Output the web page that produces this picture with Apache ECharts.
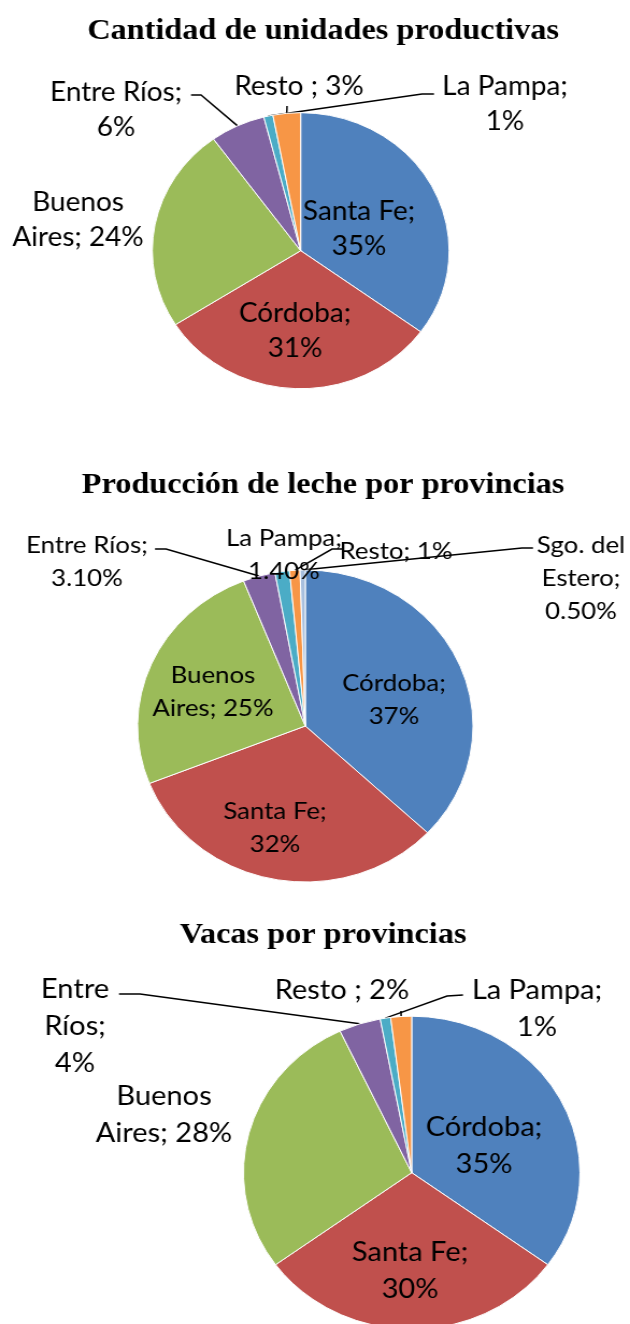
<!DOCTYPE html>
<html>
<head>
<meta charset="utf-8">
<script src="https://cdn.jsdelivr.net/npm/echarts@6/dist/echarts.min.js"></script>
<style>
  html, body { margin: 0; padding: 0; background: #fff; overflow: hidden; }
  /* el original esta estirado en horizontal, las tortas son elipses */
  #chart { width: 586px; height: 1324px; transform: scaleX(1.0751); transform-origin: 0 0; }
</style>
</head>
<body>
<div id="chart"></div>
<script>
// datos
const titulos = ['Cantidad de unidades productivas', 'Producción de leche por provincias', 'Vacas por provincias'];

const unidadesNombres = ['Santa Fe', 'Córdoba', 'Buenos Aires', 'Entre Ríos', 'La Pampa', 'Resto'];
const unidadesValores = [35, 31, 24, 6, 1, 3];
const unidadesEtiquetas = ['Santa Fe;\n35%', 'Córdoba;\n31%', 'Buenos\nAires; 24%', 'Entre Ríos;\n6%', 'La Pampa;\n1%', 'Resto ; 3%'];

const lecheNombres = ['Córdoba', 'Santa Fe', 'Buenos Aires', 'Entre Ríos', 'La Pampa', 'Resto', 'Sgo. del Estero'];
const lecheValores = [37, 32, 25, 3.1, 1.4, 1, 0.5];
const lecheEtiquetas = ['Córdoba;\n37%', 'Santa Fe;\n32%', 'Buenos\nAires; 25%', 'Entre Ríos;\n3.10%', 'La Pampa;\n1.40%', 'Resto; 1%', 'Sgo. del\nEstero;\n0.50%'];

const vacasNombres = ['Córdoba', 'Santa Fe', 'Buenos Aires', 'Entre Ríos', 'La Pampa', 'Resto'];
const vacasValores = [35, 30, 28, 4, 1, 2];
const vacasEtiquetas = ['Córdoba;\n35%', 'Santa Fe;\n30%', 'Buenos\nAires; 28%', 'Entre\nRíos;\n4%', 'La Pampa;\n1%', 'Resto ; 2%'];

// estilos y ubicaciones (en px de pantalla)
const K = 630 / 586;
const colores6 = ['#4F81BD', '#C0504D', '#9BBB59', '#8064A2', '#4BACC6', '#F79646'];
const colores7 = colores6.concat(['#A7BFDE']);

const graficos = [
  {
    nombres: unidadesNombres, valores: unidadesValores, etiquetas: unidadesEtiquetas, colores: colores6,
    centro: [300.7, 250.7], radio: 138, tituloTop: 14, fuente: 26, interlinea: 35,
    lugares: [[359, 229.5], [295, 331], [78, 220], [116, 110.5], [505, 104.5], [299, 87]],
    lineas: { 3: [[201, 95], [191, 95]], 4: [[422, 94], [434, 94]], 5: [[287, 106], [287, 106]] }
  },
  {
    nombres: lecheNombres, valores: lecheValores, etiquetas: lecheEtiquetas, colores: colores7,
    centro: [305.3, 726], radio: 156, tituloTop: 468, fuente: 24, interlinea: 33,
    lugares: [[394, 700], [275, 827.5], [213, 691.5], [87, 561.5], [284, 555], [396, 551], [581, 578]],
    lineas: { 3: [[166, 549], [155, 549]], 5: [[332, 549], [342, 549]], 6: [[522, 548], [533, 548]] }
  },
  {
    nombres: vacasNombres, valores: vacasValores, etiquetas: vacasEtiquetas, colores: colores6,
    centro: [411.7, 1172.7], radio: 156.5, tituloTop: 918, fuente: 27, interlinea: 37,
    lugares: [[484, 1145.5], [410, 1270.5], [164, 1114.5], [75, 1026.5], [537, 1008.5], [342, 990]],
    lineas: { 3: [[140, 994], [119, 994]], 4: [[447, 996], [463, 995]], 5: [[401, 1011], [401, 1011]] }
  }
];

// punto del borde de la porcion (para la linea guia)
function bordePorcion(g, i) {
  const total = g.valores.reduce((a, b) => a + b, 0);
  let acum = 0;
  for (let j = 0; j < i; j++) acum += g.valores[j];
  const ang = (acum + g.valores[i] / 2) / total * Math.PI * 2;
  return [g.centro[0] / K + g.radio * Math.sin(ang), g.centro[1] - g.radio * Math.cos(ang)];
}

let myChart = echarts.init(document.getElementById('chart'));

let title = [];
let series = [];
graficos.forEach(function (g, n) {
  title.push({
    text: titulos[n],
    left: 300.5,
    top: g.tituloTop,
    textAlign: 'center',
    padding: 0,
    textStyle: { fontFamily: 'Liberation Serif', fontWeight: 'bold', fontSize: 30, lineHeight: 34, color: '#000' }
  });
  series.push({
    type: 'pie',
    center: [g.centro[0] / K, g.centro[1]],
    radius: g.radio,
    startAngle: 90,
    clockwise: true,
    avoidLabelOverlap: false,
    silent: true,
    itemStyle: { borderColor: '#fff', borderWidth: 1 },
    label: {
      position: 'inside',
      overflow: 'none',
      fontFamily: 'Lato',
      fontSize: g.fuente,
      lineHeight: g.interlinea,
      color: '#000',
      formatter: function (p) { return g.etiquetas[p.dataIndex]; }
    },
    labelLine: { show: false, lineStyle: { color: '#000', width: 1.5 } },
    labelLayout: function (p) {
      const lugar = g.lugares[p.dataIndex];
      const res = { x: lugar[0] / K, y: lugar[1], align: 'center', verticalAlign: 'middle' };
      const linea = g.lineas[p.dataIndex];
      if (linea) {
        res.labelLinePoints = [bordePorcion(g, p.dataIndex), [linea[0][0] / K, linea[0][1]], [linea[1][0] / K, linea[1][1]]];
      }
      return res;
    },
    data: g.valores.map(function (v, i) {
      const item = { name: g.nombres[i], value: v, itemStyle: { color: g.colores[i] } };
      if (g.lineas[i]) {
        item.label = { position: 'outside' };
        item.labelLine = { show: true, length: 10, length2: 10 };
      }
      return item;
    })
  });
});

myChart.setOption({
  animation: false,
  backgroundColor: '#fff',
  title: title,
  series: series
});

window.onresize = function () {
  myChart.resize();
};
</script>
</body>
</html>
